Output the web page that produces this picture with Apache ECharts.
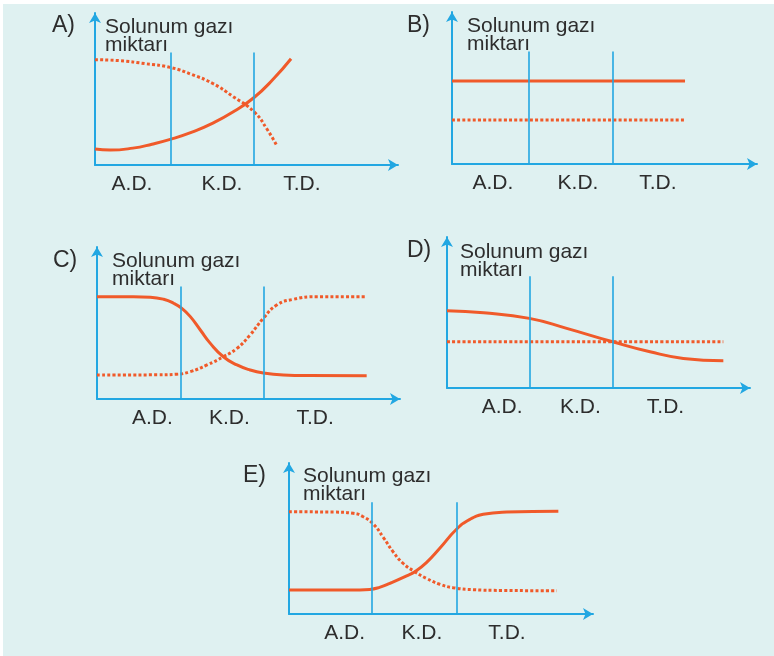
<!DOCTYPE html>
<html>
<head>
<meta charset="utf-8">
<script src="https://cdn.jsdelivr.net/npm/echarts@6/dist/echarts.min.js"></script>
<style>
  html, body { margin: 0; padding: 0; background: #ffffff; }
  #bg { position: absolute; left: 3px; top: 4px; width: 771px; height: 652px; background: #dff1f1; }
  #c { position: absolute; left: 0; top: 0; width: 774px; height: 656px; }
</style>
</head>
<body>
<div id="bg"></div>
<div id="c"></div>
<script>
// ---------- data ----------
const panelNames = ['A)', 'B)', 'C)', 'D)', 'E)'];
const yAxisName = 'Solunum gazı\nmiktarı';
const stageLabels = ['A.D.', 'K.D.', 'T.D.'];

// x: 0..100 along the horizontal axis, y: 0..100 along the vertical axis
const aSolid  = [[0,10.5],[5,9.8],[12.5,11.1],[18.8,13.7],[25.1,17],[32,21.6],[38.9,27.5],[45.9,35.3],[52.5,44.4],[58.7,56.2],[64.7,69.9]];
const aDotted = [[0,69.3],[8.3,68.6],[16.5,66.7],[25.1,64.1],[32,59.5],[38.9,53.6],[45.5,45.1],[52.5,35],[56.8,23.5],[60.1,12.4]];

const bSolid  = [[0,54.6],[76.4,54.6]];
const bDotted = [[0,28.9],[76.4,28.9]];

const cSolid  = [[0,67.3],[12,67.3],[17.6,67],[22,65.6],[25.3,63],[28,59.6],[30.8,54.2],[34.1,45.4],[37.4,36.6],[41.7,27.8],[46.2,22.4],[50.5,19.1],[54.9,17.1],[61.5,15.8],[70,15.4],[89,15.3]];
const cDotted = [[0,15.8],[20,15.9],[26.3,16.3],[30.8,18],[36.3,22.4],[41.7,27.8],[46.2,33.3],[50.5,42.1],[54.9,53.1],[59.3,61.8],[64.8,65.6],[72.5,67.3],[89,67.3]];

const dSolid  = [[0,51.1],[12.1,49.8],[27.2,46.1],[39.5,39.5],[54.7,30.6],[67,24],[78,19.6],[91.2,18]];
const dDotted = [[0,30.6],[91.2,30.6]];

const eSolid  = [[0,15.9],[20,15.9],[26.6,16.3],[30,17.8],[33.2,20.3],[38.7,25.2],[41.4,28],[45.2,34],[49.6,43.5],[55.1,56.1],[59.5,62.7],[63.9,66],[71.6,67.5],[88.6,68]];
const eDotted = [[0,67.7],[15,67.5],[21.1,66.7],[24.4,64.4],[27.7,59.6],[31,50.8],[34.2,41.3],[37.5,33.6],[41.4,28],[45.2,23.6],[49.6,19.7],[54,17.4],[60.6,16.1],[70,15.6],[88.1,15.4]];

// stage boundaries (vertical lines) and stage label positions on the x axis
const aBounds = [25.1, 52.5], aLabelPos = [12.2, 41.9, 68.3];
const bBounds = [25.3, 52.7], bLabelPos = [13.4, 41.3, 67.5];
const cBounds = [27.5, 55.0], cLabelPos = [18.3, 43.7, 72.0];
const dBounds = [27.2, 54.7], dLabelPos = [18.2, 44.0, 72.1];
const eBounds = [27.1, 55.1], eLabelPos = [18.3, 43.7, 71.7];
const boundTop = 74;

// ---------- layout & style ----------
const BLUE = '#22a7e2';
const RED = '#f05a2a';
const TEXT = '#2d2d2d';
const FONT = '"Liberation Sans", Arial, sans-serif';

const layouts = [
  { left: 95,  top: 13,  width: 303, height: 152, titleLeft: 52,  titleTop: 14,  namePad: 10, nameGap: -5 },
  { left: 452, top: 12,  width: 305, height: 152, titleLeft: 407, titleTop: 14,  namePad: 15, nameGap: -5 },
  { left: 97,  top: 247, width: 303, height: 152, titleLeft: 53,  titleTop: 249, namePad: 15, nameGap: -5 },
  { left: 447, top: 237, width: 303, height: 151, titleLeft: 407, titleTop: 239, namePad: 13, nameGap: -6 },
  { left: 289, top: 463, width: 304, height: 151, titleLeft: 243, titleTop: 464, namePad: 14, nameGap: -4 }
];
const solids = [aSolid, bSolid, cSolid, dSolid, eSolid];
const dotteds = [aDotted, bDotted, cDotted, dDotted, eDotted];
const bounds = [aBounds, bBounds, cBounds, dBounds, eBounds];
const labelPos = [aLabelPos, bLabelPos, cLabelPos, dLabelPos, eLabelPos];

const option = {
  animation: false,
  backgroundColor: 'transparent',
  title: [], grid: [], xAxis: [], yAxis: [], series: []
};

layouts.forEach((L, i) => {
  option.title.push({
    text: panelNames[i], left: L.titleLeft, top: L.titleTop, padding: 0,
    textStyle: { fontFamily: FONT, fontSize: 23, fontWeight: 'normal', color: TEXT }
  });
  option.grid.push({ left: L.left, top: L.top, width: L.width, height: L.height });
  const lp = labelPos[i];
  option.xAxis.push({
    type: 'value', gridIndex: i, min: 0, max: 100,
    axisLine: { show: true, symbol: ['none', 'arrow'], symbolSize: [9, 10], lineStyle: { color: BLUE, width: 2 } },
    axisTick: { show: false },
    splitLine: { show: false },
    axisLabel: {
      customValues: lp,
      formatter: v => stageLabels[lp.indexOf(v)],
      margin: 9, fontFamily: FONT, fontSize: 21, color: TEXT
    }
  });
  option.yAxis.push({
    type: 'value', gridIndex: i, min: 0, max: 100,
    name: yAxisName, nameLocation: 'end', nameGap: L.nameGap,
    nameTextStyle: {
      fontFamily: FONT, fontSize: 21, color: TEXT, lineHeight: 18,
      align: 'left', verticalAlign: 'top', padding: [0, 0, 0, L.namePad]
    },
    axisLine: { show: true, symbol: ['none', 'arrow'], symbolSize: [9, 10], lineStyle: { color: BLUE, width: 2 } },
    axisTick: { show: false },
    axisLabel: { show: false },
    splitLine: { show: false }
  });
  option.series.push({
    type: 'line', xAxisIndex: i, yAxisIndex: i, data: solids[i],
    smooth: 0.5, showSymbol: false, z: 3,
    lineStyle: { color: RED, width: 3 },
    markLine: {
      silent: true, symbol: ['none', 'none'], label: { show: false },
      lineStyle: { color: BLUE, width: 1.6, type: 'solid' },
      data: bounds[i].map(b => [{ coord: [b, 0] }, { coord: [b, boundTop] }])
    }
  });
  option.series.push({
    type: 'line', xAxisIndex: i, yAxisIndex: i, data: dotteds[i],
    smooth: 0.5, showSymbol: false, z: 3,
    lineStyle: { color: RED, width: 3, type: [3, 2.2], cap: 'butt' }
  });
});

const chart = echarts.init(document.getElementById('c'), null, { renderer: 'canvas' });
chart.setOption(option);
</script>
</body>
</html>
